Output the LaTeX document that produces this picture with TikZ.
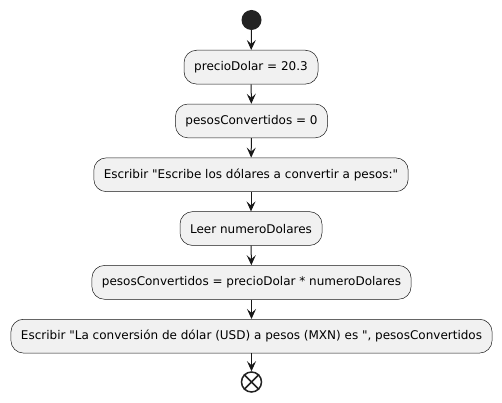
\documentclass[tikz,border=0pt]{standalone}
\usepackage{fontspec}
\setmainfont{DejaVu Sans}[Ligatures=TeXOff]
\usetikzlibrary{arrows.meta}
\definecolor{boxfill}{HTML}{F1F1F1}
\definecolor{boxline}{HTML}{181818}
\definecolor{startfill}{HTML}{222222}
\begin{document}
\begin{tikzpicture}[x=1pt,y=-1pt,
  action/.style={draw=boxline, fill=boxfill, line width=0.5pt, rounded corners=12.5pt,
    minimum height=33.8pt, inner xsep=10pt, inner ysep=0pt, font=\fontsize{12}{14}\selectfont, text=black, anchor=north},
  flow/.style={draw=boxline, line width=1pt, -{Stealth[length=10pt,width=9pt,inset=4pt]}},
]
\useasboundingbox (0,0) rectangle (502,403);
\node[circle, fill=startfill, minimum size=20pt, inner sep=0pt] (start) at (251.5,20) {};
\node[action, minimum width=134pt] (n1) at (251,50) {precioDolar = 20.3};
\node[action, minimum width=151pt] (n2) at (251.5,103.8) {pesosConvertidos = 0};
\node[action, minimum width=314pt] (n3) at (251,157.6) {Escribir "Escribe los dólares a convertir a pesos:"};
\node[action, minimum width=142pt] (n4) at (251,211.4) {Leer numeroDolares};
\node[action, minimum width=319pt] (n5) at (251.5,265.2) {pesosConvertidos = precioDolar * numeroDolares};
\node[action, minimum width=481pt] (n6) at (251.5,319) {Escribir "La conversión de dólar (USD) a pesos (MXN) es ", pesosConvertidos};
\node[circle, draw=startfill, line width=1.5pt, fill=white, minimum size=20pt, inner sep=0pt] (stop) at (251.5,382) {};
\draw[draw=startfill, line width=1.5pt] (stop.north west) -- (stop.south east) (stop.north east) -- (stop.south west);
\draw[flow] (start) -- (n1);
\draw[flow] (n1) -- (n2);
\draw[flow] (n2) -- (n3);
\draw[flow] (n3) -- (n4);
\draw[flow] (n4) -- (n5);
\draw[flow] (n5) -- (n6);
\draw[flow] (n6) -- (stop);
\end{tikzpicture}
\end{document}
